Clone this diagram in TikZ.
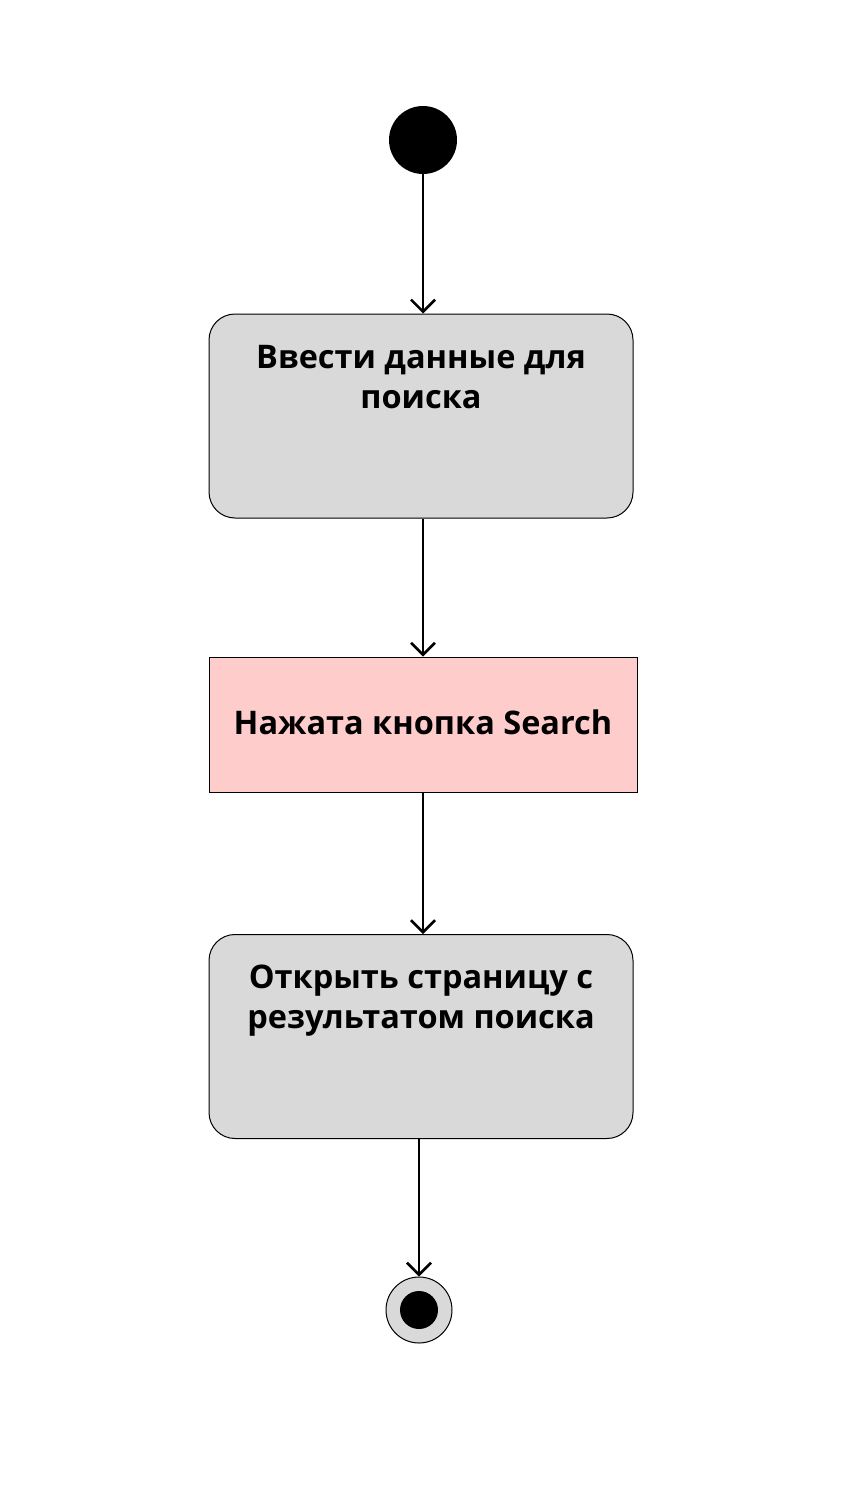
\documentclass[tikz,border=0pt]{standalone}
\usepackage{fontspec}
\setmainfont{Open Sans}
\usetikzlibrary{arrows.meta}
\begin{document}
\begin{tikzpicture}[x=1pt,y=-1pt,
  act/.style={draw=black,line width=1pt,fill=black!15,rounded corners=26pt,minimum width=424pt,minimum height=204pt,inner sep=0pt},
  evt/.style={draw=black,line width=0.8pt,fill=red!20,minimum width=428pt,minimum height=135pt,inner sep=0pt},
  lbl/.style={font=\fontsize{32.5}{40}\selectfont\bfseries,align=center},
  flow/.style={line width=2.6pt,-{Straight Barb[length=12pt,width=24pt,line width=2.6pt]}}]
\useasboundingbox (0,0) rectangle (846,1490);
\node[circle,fill=black,minimum size=68pt,inner sep=0pt] (start) at (423,140) {};
\node[act] (a1) at (421,416) {};
\node[lbl,anchor=north] (t1) at (421,342) {Ввести данные для\\поиска};
\node[evt] (e1) at (423,724.5) {};
\node[lbl] (t2) at (423,722) {Нажата кнопка Search};
\node[act] (a2) at (421,1036.5) {};
\node[lbl,anchor=north] (t3) at (421,961) {Открыть страницу с\\результатом поиска};
\node[circle,draw=black,line width=1pt,fill=black!15,minimum size=66pt,inner sep=0pt] (end) at (419,1310) {};
\node[circle,fill=black,minimum size=38pt,inner sep=0pt] (endin) at (419,1310) {};
\draw[flow] (start.south) -- (a1.north -| start);
\draw[flow] (a1.south -| start) -- (e1.north -| start);
\draw[flow] (e1.south -| start) -- (a2.north -| start);
\draw[flow] (a2.south -| end) -- (end.north);
\end{tikzpicture}
\end{document}
